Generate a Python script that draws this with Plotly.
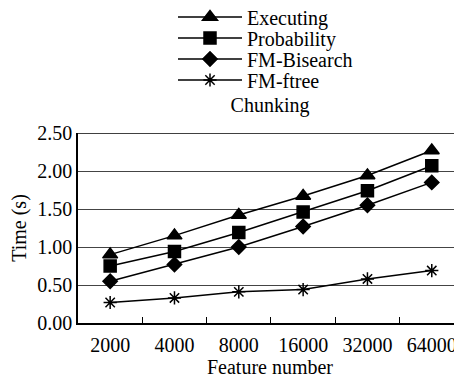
import plotly.graph_objects as go

categories = ["2000", "4000", "8000", "16000", "32000", "64000"]
executing = [0.90, 1.15, 1.42, 1.67, 1.94, 2.27]
probability = [0.75, 0.94, 1.19, 1.46, 1.74, 2.07]
fm_bisearch = [0.55, 0.77, 1.00, 1.27, 1.55, 1.85]
fm_ftree = [0.27, 0.33, 0.41, 0.44, 0.58, 0.69]

series = [
    ("Executing", executing, "triangle-up", 13),
    ("Probability", probability, "square", 12),
    ("FM-Bisearch", fm_bisearch, "diamond", 11),
    ("FM-ftree", fm_ftree, "asterisk-open", 11),
]
legend_rows = [17, 38, 59, 80]  # screen y of legend rows

FONT = "Liberation Serif"
def f(size=20):
    return dict(family=FONT, size=size, color="black")

# figure is placed at (8,8) by the page's body margin
W, H = 454, 381
L, T, B, R = 70, 125, 66, 0
PH = H - T - B
PW = W - L - R

fig = go.Figure()
legends = {}
for i, (name, vals, sym, size) in enumerate(series):
    lg = "legend" if i == 0 else f"legend{i + 1}"
    fig.add_trace(go.Scatter(
        x=categories, y=vals, name=name, mode="lines+markers", legend=lg,
        line=dict(color="black", width=1.5),
        marker=dict(symbol=sym, size=size, color="black",
                    line=dict(color="black", width=1.5)),
    ))
    yc = legend_rows[i] - 8
    legends[lg] = dict(xref="paper", yref="container",
                       x=(173 - 8 - L) / PW, xanchor="left",
                       y=1 - yc / H, yanchor="middle",
                       bgcolor="rgba(0,0,0,0)", itemwidth=64, font=f())

fig.update_layout(
    width=W, height=H,
    margin=dict(l=L, r=R, t=T, b=B),
    paper_bgcolor="white", plot_bgcolor="white",
    font=f(),
    title=dict(text="Chunking", x=(270 - 8) / W, xanchor="center",
               y=1 - (105 - 8) / H, yanchor="middle", yref="container",
               font=f()),
    showlegend=True,
    xaxis=dict(type="category", range=[-0.5, 5.47], automargin=False,
               showline=True, linecolor="black", linewidth=1.5,
               ticks="inside", ticklen=6, tickcolor="black", tickson="boundaries",
               ticklabelstandoff=3,
               showgrid=False, title=dict(text="Feature number", standoff=3, font=f()),
               tickfont=f()),
    yaxis=dict(range=[0, 2.5], tickvals=[0, 0.5, 1.0, 1.5, 2.0, 2.5], automargin=False,
               ticktext=["0.00", "0.50", "1.00", "1.50", "2.00", "2.50"],
               showline=True, linecolor="black", linewidth=1.5,
               showgrid=True, gridcolor="#444444", gridwidth=1,
               zeroline=False, ticks="",
               title=dict(text="Time (s)", standoff=8, font=f()),
               tickfont=f()),
    **legends,
)
fig.add_shape(type="line", xref="paper", yref="y", x0=0, x1=1, y0=2.5, y1=2.5,
              line=dict(color="black", width=1.5))

fig.write_html("out.html")
